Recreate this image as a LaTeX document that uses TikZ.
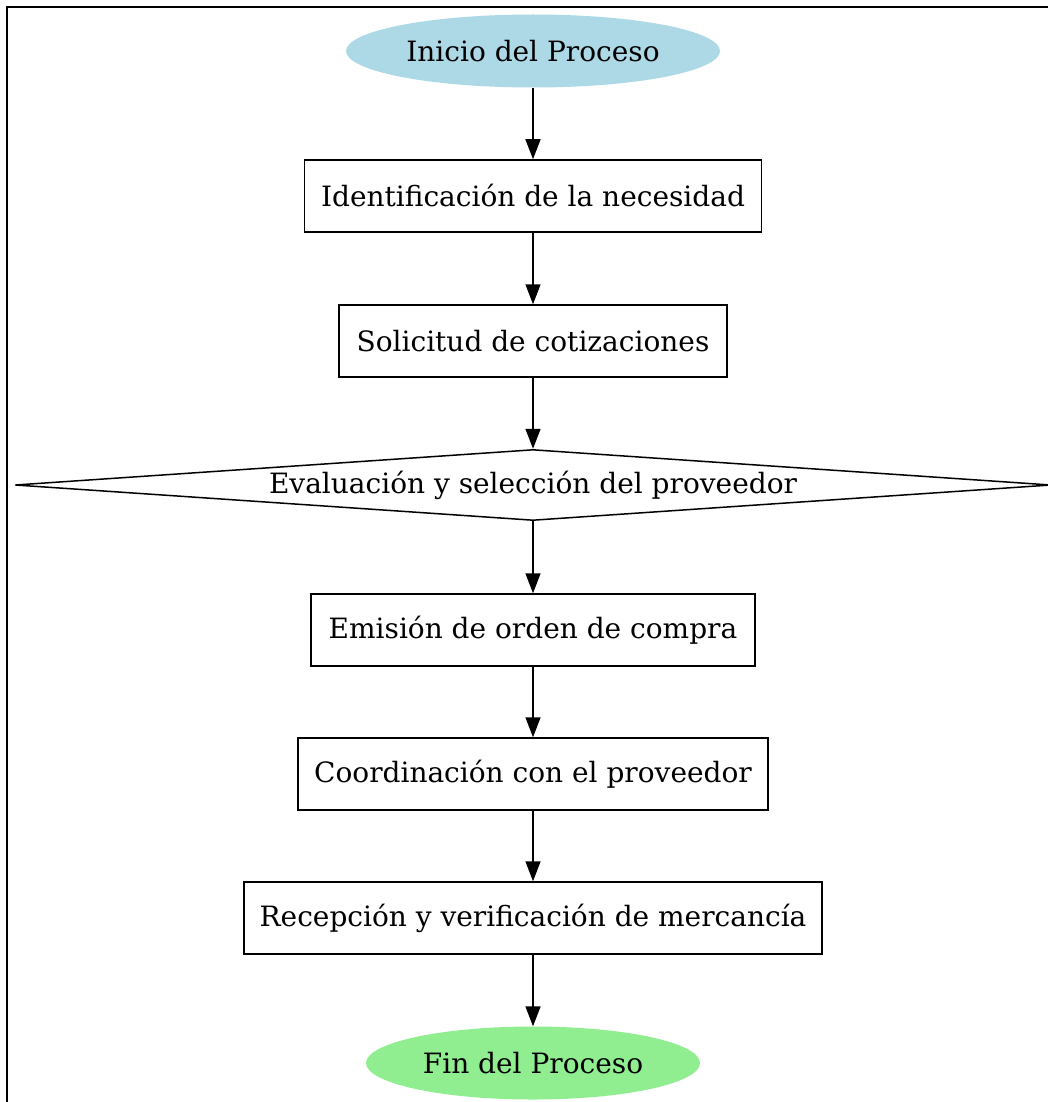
\documentclass[tikz,border=0pt]{standalone}
\usepackage{fontspec}
\setmainfont{DejaVu Serif}
\usetikzlibrary{shapes.geometric,arrows.meta}
\begin{document}
\begin{tikzpicture}[x=1pt,y=-1pt,
  every node/.style={font=\fontsize{28}{34}\selectfont, inner sep=0pt},
  stepbox/.style={draw, line width=1.5pt, rectangle, minimum height=72pt},
  terminal/.style={ellipse, minimum height=73pt},
  decision/.style={draw, line width=1.5pt, diamond, aspect=14.6, minimum width=1036pt, minimum height=71pt},
  flow/.style={line width=1.5pt, -{Triangle[length=20pt,width=15pt]}}]
\useasboundingbox (0,0) rectangle (1047,1102);
\fill[white] (0,0) rectangle (1047,1102);
\draw[line width=2.5pt] (7,1110) -- (7,7) -- (1060,7);

\node[terminal, fill={rgb,255:red,173;green,216;blue,230}, minimum width=374pt] (start) at (533,51) {Inicio del Proceso};
\node[stepbox, minimum width=457pt] (s1) at (533,196) {Identificación de la necesidad};
\node[stepbox, minimum width=388pt] (s2) at (533,341) {Solicitud de cotizaciones};
\node[decision] (d) at (533,485) {Evaluación y selección del proveedor};
\node[stepbox, minimum width=444pt] (s3) at (533,630) {Emisión de orden de compra};
\node[stepbox, minimum width=470pt] (s4) at (533,774) {Coordinación con el proveedor};
\node[stepbox, minimum width=578pt] (s5) at (533,918) {Recepción y verificación de mercancía};
\node[terminal, fill={rgb,255:red,144;green,238;blue,144}, minimum width=334pt] (end) at (533,1063) {Fin del Proceso};

\draw[flow] (start) -- (s1);
\draw[flow] (s1) -- (s2);
\draw[flow] (s2) -- (d);
\draw[flow] (d) -- (s3);
\draw[flow] (s3) -- (s4);
\draw[flow] (s4) -- (s5);
\draw[flow] (s5) -- (end);
\end{tikzpicture}
\end{document}
